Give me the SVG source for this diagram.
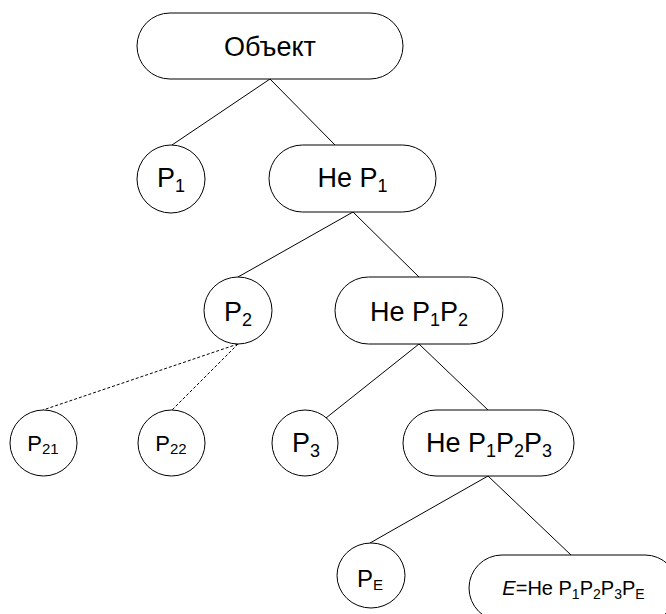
<svg xmlns="http://www.w3.org/2000/svg" width="666" height="614" viewBox="0 0 666 614">
<style>
  .shape { fill: #ffffff; stroke: #000000; stroke-width: 1; }
  .edge { stroke: #000000; stroke-width: 1; fill: none; }
  .dash { stroke-dasharray: 3 2; }
  text { font-family: "Liberation Sans", Arial, sans-serif; fill: #000000; text-anchor: middle; }
  .big { font-size: 27px; }
  .mid { font-size: 24px; }
  .small { font-size: 22px; }
  .tiny { font-size: 20px; }
</style>
<rect width="666" height="614" fill="#ffffff"/>
<g id="connectors">
  <line class="edge" x1="270" y1="79" x2="172" y2="145"/>
  <line class="edge" x1="270" y1="79" x2="335" y2="145"/>
  <line class="edge" x1="353" y1="212" x2="238" y2="277"/>
  <line class="edge" x1="353" y1="212" x2="419" y2="277"/>
  <line class="edge dash" x1="238" y1="344" x2="43" y2="410"/>
  <line class="edge dash" x1="238" y1="344" x2="172" y2="410"/>
  <line class="edge" x1="419" y1="344" x2="326" y2="418"/>
  <line class="edge" x1="419" y1="344" x2="488" y2="410"/>
  <line class="edge" x1="488" y1="476" x2="370" y2="543"/>
  <line class="edge" x1="488" y1="476" x2="571" y2="555"/>
</g>
<g id="n-object">
  <rect class="shape" x="137" y="13" width="266" height="66" rx="33" ry="33"/>
  <text class="big" x="270" y="55.5">Объект</text>
</g>
<g id="n-p1">
  <ellipse class="shape" cx="171" cy="179" rx="34" ry="34"/>
  <text class="big" x="171" y="187">P<tspan font-size="18" dy="5">1</tspan></text>
</g>
<g id="n-notp1">
  <rect class="shape" x="269" y="145" width="167" height="67" rx="33.5" ry="33.5"/>
  <text class="big" x="352.5" y="187">Не P<tspan font-size="18" dy="5">1</tspan></text>
</g>
<g id="n-p2">
  <ellipse class="shape" cx="238" cy="310.5" rx="34" ry="33.5"/>
  <text class="big" x="238" y="320.5">P<tspan font-size="18" dy="5">2</tspan></text>
</g>
<g id="n-notp1p2">
  <rect class="shape" x="335" y="277" width="168" height="67" rx="33.5" ry="33.5"/>
  <text class="big" x="419" y="320.5">Не P<tspan font-size="18" dy="5">1</tspan><tspan dy="-5">P</tspan><tspan font-size="18" dy="5">2</tspan></text>
</g>
<g id="n-p21">
  <ellipse class="shape" cx="43.5" cy="443" rx="33.5" ry="33"/>
  <text class="small" x="43" y="451">P<tspan font-size="15" dy="3">21</tspan></text>
</g>
<g id="n-p22">
  <ellipse class="shape" cx="171.5" cy="443" rx="33.5" ry="33"/>
  <text class="small" x="171" y="451">P<tspan font-size="15" dy="3">22</tspan></text>
</g>
<g id="n-p3">
  <ellipse class="shape" cx="305" cy="443" rx="33" ry="33"/>
  <text class="big" x="306" y="452">P<tspan font-size="18" dy="5">3</tspan></text>
</g>
<g id="n-notp1p2p3">
  <rect class="shape" x="403" y="410" width="171" height="66" rx="33" ry="33"/>
  <text class="big" x="489" y="452">Не P<tspan font-size="18" dy="5">1</tspan><tspan dy="-5">P</tspan><tspan font-size="18" dy="5">2</tspan><tspan dy="-5">P</tspan><tspan font-size="18" dy="5">3</tspan></text>
</g>
<g id="n-pe">
  <ellipse class="shape" cx="371" cy="575.5" rx="34" ry="32.5"/>
  <text class="mid" x="370" y="587">P<tspan font-size="15" dy="3">E</tspan></text>
</g>
<g id="n-e">
  <rect class="shape" x="469" y="555" width="209" height="66" rx="33" ry="33"/>
  <text class="tiny" x="573.5" y="595"><tspan font-style="italic">E</tspan>=Не P<tspan font-size="14" dy="4">1</tspan><tspan dy="-4">P</tspan><tspan font-size="14" dy="4">2</tspan><tspan dy="-4">P</tspan><tspan font-size="14" dy="4">3</tspan><tspan dy="-4">P</tspan><tspan font-size="14" dy="4">E</tspan></text>
</g>
</svg>
